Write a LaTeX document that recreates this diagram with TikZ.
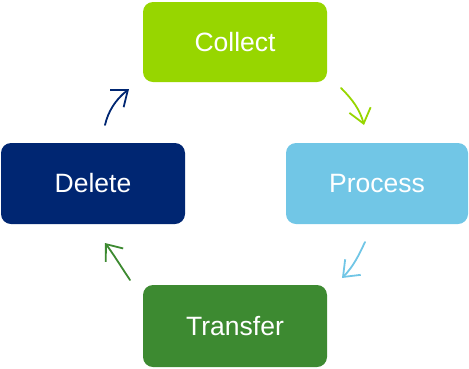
\documentclass[tikz,border=0pt]{standalone}
\usepackage{fontspec}
\setmainfont{Liberation Sans}
\usetikzlibrary{arrows.meta}
\definecolor{cLime}{HTML}{97D600}
\definecolor{cSky}{HTML}{71C6E6}
\definecolor{cNavy}{HTML}{002672}
\definecolor{cGreen}{HTML}{3D8A31}
\tikzset{
  stepbox/.style={rounded corners=10pt, minimum width=184pt, minimum height=80pt,
    inner sep=0pt, text=white, font=\fontsize{26.5}{30}\selectfont},
  flow/.style={line width=1.8pt, line cap=round, -{Straight Barb[length=14pt,width=22pt,line width=1.8pt]}}
}
\begin{document}
\begin{tikzpicture}[x=1pt,y=-1pt]
\useasboundingbox (0,0) rectangle (469,368);
\node[stepbox, fill=cLime] (collect) at (235,42) {Collect};
\node[stepbox, fill=cSky, minimum width=182pt, minimum height=81pt] (process) at (377,183.5) {Process};
\node[stepbox, fill=cNavy, minimum height=81pt] (delete) at (93,183.5) {Delete};
\node[stepbox, fill=cGreen, minimum height=82pt] (transfer) at (235,326) {Transfer};
\coordinate (a1) at (341,88); \coordinate (b1) at (364,125);
\coordinate (a2) at (365,242); \coordinate (b2) at (342,278);
\coordinate (a3) at (130,280); \coordinate (b3) at (105,243);
\coordinate (a4) at (105,125); \coordinate (b4) at (129,89);
\draw[flow, cLime] (a1) .. controls (353,100) and (360,110) .. (b1);
\draw[flow, cSky] (a2) .. controls (359,255) and (353,267) .. (b2);
\draw[flow, cGreen] (a3) .. controls (122,268) and (112,252) .. (b3);
\draw[flow, cNavy] (a4) .. controls (108,112) and (115,100) .. (b4);
\end{tikzpicture}
\end{document}
